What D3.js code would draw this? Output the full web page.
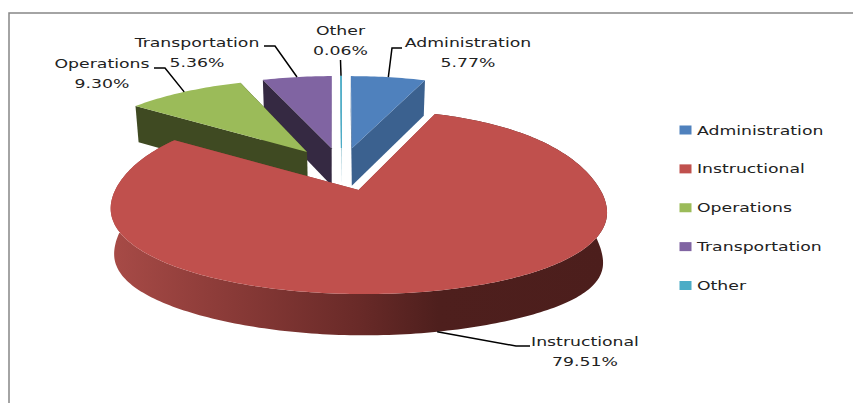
<!DOCTYPE html>
<html lang="en">
<head>
  <meta charset="UTF-8">
  <title>Expenditure by category</title>
  <style type="text/css" media="all">
    html, body { margin: 0; padding: 0; background: #fff; overflow: hidden; }
    svg { display: block; }
    text { font-family: "DejaVu Sans", sans-serif; font-size: 13px; fill: #222; }
  </style>
</head>
<body>
  <div id="graph"></div>
  <script src="https://d3js.org/d3.v7.min.js" charset="utf-8"></script>
  <script>
    var categories = ['Administration', 'Instructional', 'Operations', 'Transportation', 'Other'];
    var shares = [5.77, 79.51, 9.30, 5.36, 0.06];
    var shareLabels = ['5.77%', '79.51%', '9.30%', '5.36%', '0.06%'];
    var colors = ['#4f81bd', '#c0504d', '#9bbb59', '#8064a2', '#4bacc6'];
    var wallColors = ['#3b618f', '#8f3b38', '#3f4a22', '#352942', '#2f8ba3'];

    var width = 853, height = 403;

    // perspective of the pie plane, fitted by eye to the picture
    var view = { x: 341.5, y: 168.8, rx: 239, ry: 85.7, k: 0.122, explode: 0.25, depth: 38, shrink: 0.985, sag: 9, sideDrop: 9 };

    // label anchor (centre of text, first baseline) and leader elbow, same order as categories
    var labelPos = [[468, 47], [585, 346], [102, 68], [197, 47], [340.5, 35]];
    var leaderEnds = [[[402, 48], [392, 48]], [[530, 346], [516, 346]], [[154, 68], [165, 68]], [[264, 46], [275, 46]], [[340.5, 60]]];
    var textStretch = 1.33;

    var svg = d3.select('#graph').append('svg')
        .attr('width', width)
        .attr('height', height);

    // frame, only top and left edges show in the crop
    svg.append('rect')
        .attr('x', 9).attr('y', 13)
        .attr('width', width + 20).attr('height', height + 20)
        .attr('fill', 'none').attr('stroke', '#868686').attr('stroke-width', 1.5);

    var grad = svg.append('defs').append('linearGradient')
        .attr('id', 'rimShade')
        .attr('gradientUnits', 'userSpaceOnUse')
        .attr('x1', 110).attr('x2', 607).attr('y1', 0).attr('y2', 0);
    [[0, '#a84b47'], [0.2, '#8f3d3a'], [0.5, '#692a28'], [0.66, '#4e1f1d'], [1, '#4c1e1c']].forEach(function(s) {
      grad.append('stop').attr('offset', s[0]).attr('stop-color', s[1]);
    });

    var slices = d3.pie().sort(null).startAngle(0).endAngle(2 * Math.PI)(shares);
    var midAngle = function(d) { return (d.startAngle + d.endAngle) / 2; };

    // pie angle + radius fraction -> screen, low = true for the bottom face
    function project(d, angle, radius, low) {
      var mid = midAngle(d),
          u = radius * Math.sin(angle) + view.explode * Math.sin(mid),
          v = radius * Math.cos(angle) + view.explode * Math.cos(mid),
          w = 1 + view.k * v,
          sx = low ? view.shrink : 1,
          // the original's sides hang a little lower than a true projection
          t = Math.max(0, Math.min(1, (0.7 - v) / 1.1)),
          ramp = t * t * (3 - 2 * t),
          sag = view.sag * u * u * ramp,
          drop = low ? view.depth / Math.sqrt(w) + view.sideDrop * u * u * u * u * ramp : 0;
      return [
        view.x + sx * view.rx * u / w,
        view.y - view.ry * v / w + sag + drop
      ];
    }

    function rimPoints(d, low) {
      var steps = Math.max(2, Math.ceil((d.endAngle - d.startAngle) / 0.02));
      return d3.range(steps + 1).map(function(i) {
        return project(d, d.startAngle + (d.endAngle - d.startAngle) * i / steps, 1, low);
      });
    }

    var line = d3.line();
    var order = slices.slice().sort(function(a, b) {
      return Math.cos(midAngle(b)) - Math.cos(midAngle(a));
    });

    var groups = svg.selectAll('g.slice')
        .data(order)
        .enter().append('g')
        .attr('class', 'slice');

    groups.each(function(d) {
      var g = d3.select(this),
          i = d.index;

      // walls first, the top face paints over whatever is hidden
      if (categories[i] === 'Instructional') {
        g.append('path')
            .attr('d', line(rimPoints(d, false).concat(rimPoints(d, true).reverse())) + 'Z')
            .attr('fill', 'url(#rimShade)');
      }
      [d.endAngle, d.startAngle].forEach(function(a) {
        g.append('path')
            .attr('d', line([project(d, a, 1, false), project(d, a, 1, true), project(d, a, 0, true), project(d, a, 0, false)]) + 'Z')
            .attr('fill', wallColors[i]);
      });
      g.append('path')
          .attr('d', line([project(d, 0, 0, false)].concat(rimPoints(d, false))) + 'Z')
          .attr('fill', colors[i])
          .attr('stroke', shares[i] < 1 ? colors[i] : 'none');
    });

    // leaders
    svg.selectAll('path.leader')
        .data(slices)
        .enter().append('path')
        .attr('class', 'leader')
        .attr('fill', 'none')
        .attr('stroke', '#000')
        .attr('stroke-width', 1.5)
        .attr('d', function(d) {
          var a = midAngle(d),
              start = project(d, a, 1, Math.cos(a) < 0);
          return line(leaderEnds[d.index].concat([start]));
        });

    function stretched(sel, x, y) {
      return sel.attr('transform', 'translate(' + x + ',' + y + ') scale(' + textStretch + ',1)');
    }

    // data labels
    var labels = svg.selectAll('g.label')
        .data(categories)
        .enter().append('g')
        .attr('class', 'label');
    labels.append('text')
        .attr('text-anchor', 'middle')
        .text(function(d) { return d; })
        .each(function(d, i) { stretched(d3.select(this), labelPos[i][0], labelPos[i][1]); });
    labels.append('text')
        .attr('text-anchor', 'middle')
        .text(function(d, i) { return shareLabels[i]; })
        .each(function(d, i) { stretched(d3.select(this), labelPos[i][0], labelPos[i][1] + 19.5); });

    // legend
    var legendY = d3.scalePoint().domain(categories).range([130, 285.5]);
    var legend = svg.selectAll('g.legend')
        .data(categories)
        .enter().append('g')
        .attr('class', 'legend');
    legend.append('rect')
        .attr('x', 679.5)
        .attr('y', function(d) { return legendY(d) - 4.5; })
        .attr('width', 12).attr('height', 9)
        .attr('fill', function(d, i) { return colors[i]; });
    legend.append('text')
        .text(function(d) { return d; })
        .each(function(d) { stretched(d3.select(this), 697, legendY(d) + 4.5); });
  </script>
</body>
</html>
